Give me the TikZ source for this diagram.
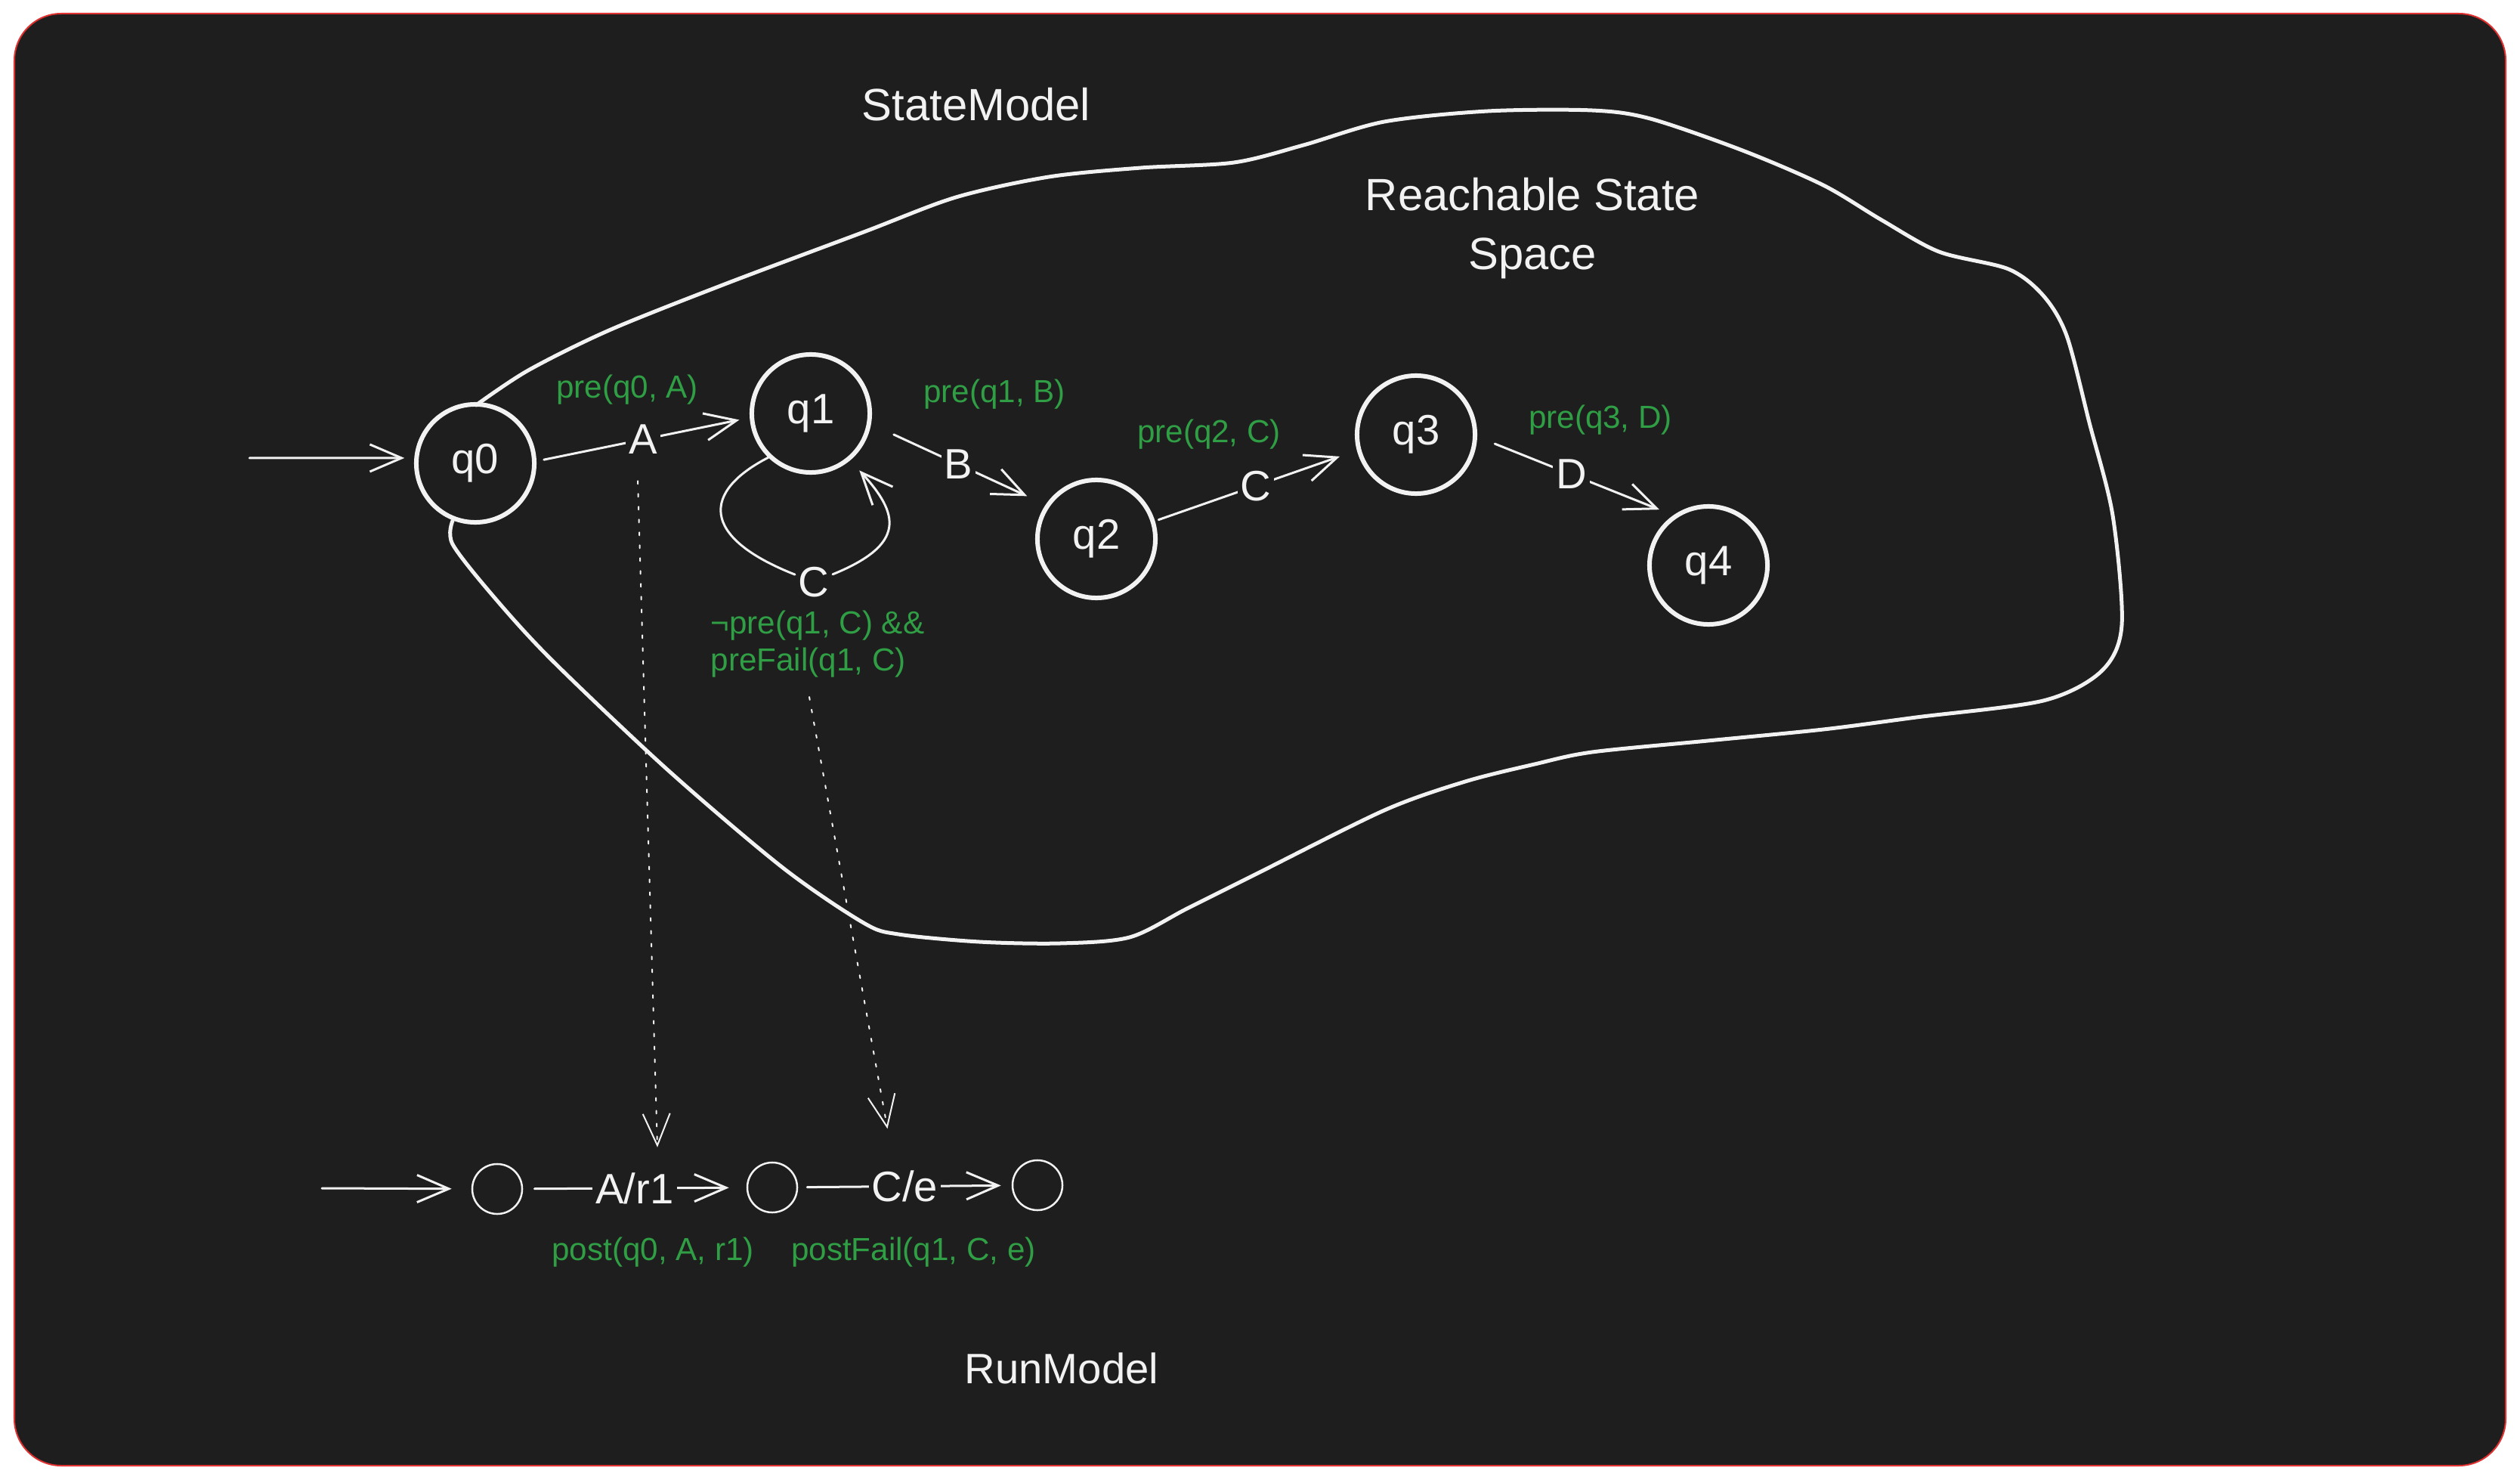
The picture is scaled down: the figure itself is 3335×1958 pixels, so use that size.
\documentclass[tikz,border=0pt]{standalone}
\usepackage{fontspec}
\setmainfont{Liberation Sans}
\usetikzlibrary{arrows.meta}
\definecolor{bg}{HTML}{1E1E1E}
\definecolor{fr}{HTML}{E03131}
\definecolor{gr}{HTML}{2F9E44}
\definecolor{ink}{HTML}{F2F2F2}
\begin{document}
\begin{tikzpicture}[x=0.01cm,y=-0.01cm,
  state/.style={circle, draw=ink, line width=0.06cm, minimum size=1.56cm, inner sep=0pt, text=ink, font=\fontsize{16}{19}\selectfont},
  rstate/.style={circle, draw=ink, line width=0.025cm, minimum size=0.66cm, inner sep=0pt},
  edge/.style={draw=ink, line width=0.03cm, -{Straight Barb[length=0.42cm,width=0.36cm]}, line cap=round, line join=round},
  plainedge/.style={draw=ink, line width=0.03cm, line cap=round},
  lbl/.style={fill=bg, text=ink, inner sep=0.04cm, font=\fontsize{16}{19}\selectfont},
  cond/.style={text=gr, font=\fontsize{12}{14}\selectfont, inner sep=0pt},
  title/.style={text=ink, font=\fontsize{17}{22}\selectfont},
  dotarrow/.style={draw=ink, line width=0.02cm, dash pattern=on 0.04cm off 0.13cm, line cap=round, -{Straight Barb[length=0.42cm,width=0.36cm]}}
]
\fill[white] (0,0) rectangle (3335,1958);
\useasboundingbox (0,0) rectangle (3335,1958);
\draw[fr, fill=bg, line width=0.02cm, rounded corners=0.62cm] (19,18) rectangle (3316,1939);

% reachable state space blob
\draw[ink, line width=0.05cm, line cap=round, line join=round] plot[smooth, tension=0.5] coordinates {
(630,536) (699,490) (806,437) (959,376) (1143,307) (1265,261) (1388,234) (1510,222) (1633,215) (1725,192) (1832,161) (1969,147) (2107,146) (2184,157) (2306,199) (2413,245) (2490,291) (2566,333) (2658,356) (2704,391) (2735,444) (2765,559) (2796,682) (2808,827) (2781,888) (2704,927) (2536,949) (2413,965) (2260,980) (2107,995) (2031,1011) (1939,1034) (1832,1072) (1663,1156) (1571,1202) (1495,1240) (1403,1248) (1296,1246) (1189,1236) (1143,1221) (1036,1148) (883,1018) (730,873) (653,789) (599,720) (599,689)};

% titles
\node[title] (tsm) at (1292,138) {StateModel};
\node[title, align=center] (trs) at (2028,302) {Reachable State\\Space};
\node[title, font=\fontsize{16}{20}\selectfont] (trm) at (1405,1810) {RunModel};

% states
\node[state] (q0) at (629,613) {q0};
\node[state] (q1) at (1073,547) {q1};
\node[state] (q2) at (1451,713) {q2};
\node[state] (q3) at (1874,575) {q3};
\node[state] (q4) at (2261,748) {q4};

\coordinate (qin) at (330,606);
\draw[edge, shorten >=0.13cm] (qin) -- (q0.175);
\draw[edge, shorten <=0.10cm, shorten >=0.14cm] (q0.2) -- node[lbl] (la) {A} (q1.184);
\draw[edge, shorten <=0.33cm, shorten >=0.27cm] (q1.-10) -- node[lbl] (lb) {B} (q2.146);
\draw[edge, shorten <=0.05cm, shorten >=0.24cm] (q2.17) -- node[lbl] (lc) {C} (q3.195);
\draw[edge, shorten <=0.25cm, shorten >=0.20cm] (q3.-2) -- node[lbl, pos=0.48] (ld) {D} (q4.125);

% self loop
\node[lbl] (lloop) at (1077,770) {C};
\draw[plainedge] (q1.226) .. controls (930,650) and (925,710) .. (lloop);
\draw[edge, shorten >=0.18cm] (lloop) .. controls (1200,720) and (1190,680) .. (q1.-50);

% conditions
\node[cond] (ca) at (830,516) {pre(q0, A)};
\node[cond] (cb) at (1316,522) {pre(q1, B)};
\node[cond] (cc) at (1600,575) {pre(q2, C)};
\node[cond] (cd) at (2118,556) {pre(q3, D)};
\node[cond, align=left, anchor=west] (cl) at (940,852) {¬pre(q1, C) \&\&\\preFail(q1, C)};

% run model
\node[rstate] (r0) at (658,1573) {};
\node[rstate] (r1) at (1022,1571) {};
\node[rstate] (r2) at (1373,1568) {};
\coordinate (rin) at (426,1572);
\draw[edge, shorten >=0.26cm] (rin) -- (r0);
\draw[edge, shorten <=0.15cm, shorten >=0.23cm] (r0) -- node[lbl] (ra) {A/r1} (r1);
\draw[edge, shorten <=0.12cm, shorten >=0.14cm] (r1) -- node[lbl] (rc) {C/e} (r2);
\node[cond] (pa) at (864,1657) {post(q0, A, r1)};
\node[cond] (pf) at (1209,1657) {postFail(q1, C, e)};

% dotted mapping arrows
\draw[dotarrow] ([xshift=-0.07cm,yshift=-0.3cm]la.south) -- ([xshift=0.30cm,yshift=0.28cm]ra.north);
\draw[dotarrow] ([xshift=-0.11cm,yshift=-0.25cm]cl.south) -- ([xshift=-0.23cm,yshift=0.5cm]rc.north);
\end{tikzpicture}
\end{document}
